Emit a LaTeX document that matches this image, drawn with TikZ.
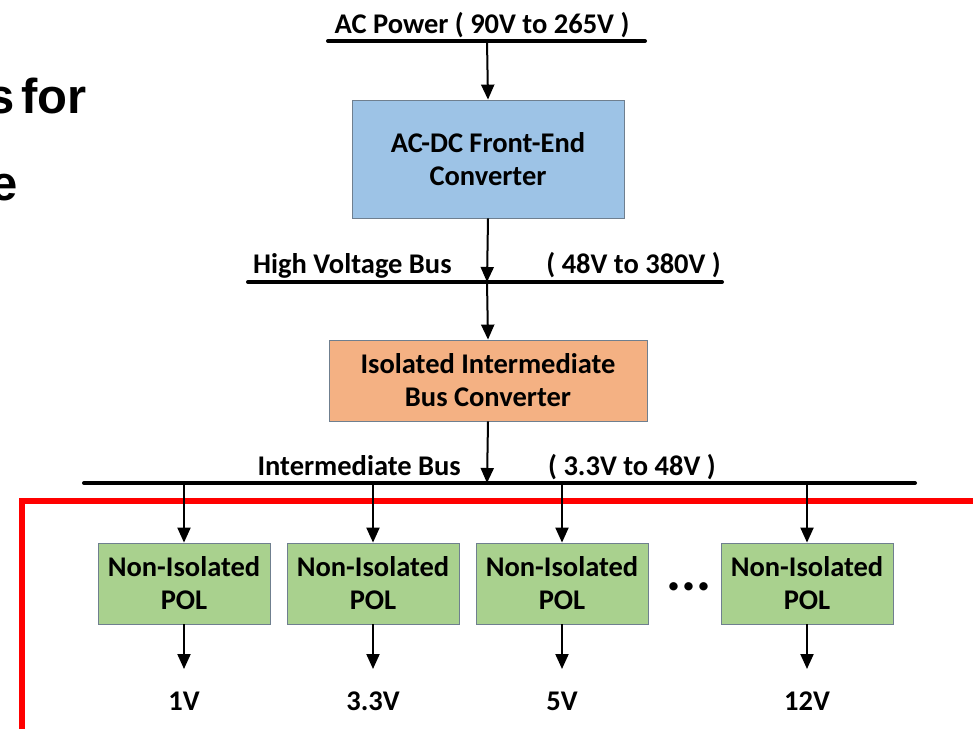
\documentclass[tikz,border=0pt]{standalone}
\usepackage{fontspec}
\setmainfont{Carlito}
\newfontfamily\arialfont{Liberation Sans}
\usetikzlibrary{arrows.meta}
\definecolor{boxblue}{HTML}{9DC3E6}
\definecolor{boxorange}{HTML}{F4B183}
\definecolor{boxgreen}{HTML}{A9D18E}
\definecolor{boxedge}{HTML}{6F7F8F}
\definecolor{redframe}{HTML}{FF0000}
\tikzset{
  lbl/.style={font=\fontsize{28.5}{32}\selectfont\bfseries, inner sep=0pt},
  blk/.style={draw=boxedge, line width=0.8pt, align=center, inner sep=0pt,
    font=\fontsize{28.5}{33}\selectfont\bfseries},
  bus/.style={line width=4pt, line cap=round},
  arr/.style={line width=2pt, -{Triangle[length=15pt,width=13pt]}},
  head/.style={font=\fontsize{49}{50}\selectfont\bfseries\arialfont, anchor=base east, inner sep=0pt},
}
\begin{document}
\begin{tikzpicture}[x=1pt,y=1pt]
\useasboundingbox (0,0) rectangle (973,-728);
\clip (0,0) rectangle (973,-728);
% left partial heading
\node[head] (h1) at (87,-113) {for};
\node[head] (h0) at (15,-113) {s};
\node[head] (h2) at (18,-200) {e};
% AC power
\node[lbl, anchor=base] (acl) at (482,-33) {AC Power ( 90V to 265V )};
\coordinate (acL) at (328,-41);
\coordinate (acR) at (645,-41);
\coordinate (acM) at (487,-41);
\draw[bus] (acL) -- (acR);
% AC-DC box
\node[blk, fill=boxblue, minimum width=272pt, minimum height=118pt] (acdc) at (488,-159) {AC-DC Front-End\\Converter};
\draw[arr] (acM) -- (acdc.north);
% HV bus
\coordinate (hvL) at (248,-282);
\coordinate (hvR) at (722,-282);
\coordinate (hvM) at (487,-282);
\draw[bus] (hvL) -- (hvR);
\node[lbl, anchor=base west] (hvl) at (253,-273) {High Voltage Bus};
\node[lbl, anchor=base east] (hvr) at (721,-273) {( 48V to 380V )};
\draw[arr] (acdc.south) -- (hvM);
% Isolated IBC
\node[blk, fill=boxorange, minimum width=318pt, minimum height=81pt] (ibc) at (488,-380.5) {Isolated Intermediate\\Bus Converter};
\draw[arr] (hvM) -- (ibc.north);
% Intermediate bus
\coordinate (ibL) at (84,-483);
\coordinate (ibR) at (915,-483);
\coordinate (ibM) at (487,-483);
\draw[bus] (ibL) -- (ibR);
\node[lbl, anchor=base east] (ibl) at (461,-475) {Intermediate Bus};
\node[lbl, anchor=base west] (ibr) at (548,-475) {( 3.3V to 48V )};
\draw[arr] (ibc.south) -- (ibM);
% red frame
\draw[redframe, line width=6pt] (22,-501) rectangle (1000,-760);
% POLs
\foreach \n/\x/\v in {1/184/1V, 2/373/3.3V, 3/562/5V, 4/807/12V}{
  \node[blk, fill=boxgreen, minimum width=172pt, minimum height=81pt] (pol\n) at (\x,-583.5) {Non-Isolated\\POL};
  \coordinate (tap\n) at (\x,-483);
  \draw[arr] (tap\n) -- (pol\n.north);
  \node[lbl, anchor=base] (out\n) at (\x,-710) {\v};
  \coordinate (end\n) at (\x,-669);
  \draw[arr] (pol\n.south) -- (end\n);
}
\node[font=\fontsize{56}{56}\selectfont\bfseries, inner sep=0pt, anchor=base] (dots) at (689,-590) {...};
\end{tikzpicture}
\end{document}
